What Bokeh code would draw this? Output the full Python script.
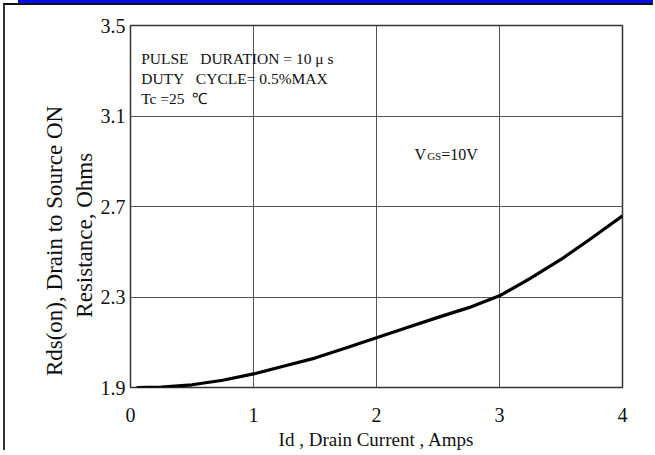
from bokeh.plotting import figure
from bokeh.models import FixedTicker, Label, Range1d
from bokeh.embed import file_html
from bokeh.resources import INLINE

# Data
drain_current = [0.05, 0.25, 0.5, 0.75, 1.0, 1.25, 1.5, 1.75, 2.0, 2.25, 2.5, 2.75, 3.0, 3.25, 3.5, 3.75, 4.0]
rds_on = [1.900, 1.902, 1.912, 1.932, 1.960, 1.995, 2.030, 2.075, 2.120, 2.165, 2.210, 2.253, 2.305, 2.382, 2.466, 2.561, 2.659]
x_ticks = [0, 1, 2, 3, 4]
y_ticks = [1.9, 2.3, 2.7, 3.1, 3.5]
NB = "\u00a0"
note_lines = ["PULSE" + NB * 3 + "DURATION = 10 μ s", "DUTY" + NB * 3 + "CYCLE= 0.5%MAX", "Tc =25" + NB * 2 + "℃"]
y_label = "Rds(on), Drain to Source ON" + NB * 12 + "\nResistance, Ohms" + NB * 10
x_label = "Id , Drain Current , Amps"

FONT = "Liberation Serif"

p = figure(width=650, height=447, output_backend="svg", toolbar_location=None,
           x_range=Range1d(0, 4), y_range=Range1d(1.9, 3.5),
           min_border_left=125, min_border_right=33, min_border_top=20, min_border_bottom=63)

# page decoration: black frame on left/top and blue strip above (as in the source document)
p.styles = {
    "border-top": "2px solid #111111",
    "border-left": "2px solid #333333",
    "margin-left": "3px",
    "margin-top": "3px",
    "box-shadow": "7.5px -10.5px 0 -7.5px #0a0af0",
}

p.line(drain_current, rds_on, line_color="black", line_width=3.2)

for ax in (p.xaxis, p.yaxis):
    ax.axis_line_color = None
    ax.major_tick_line_color = None
    ax.minor_tick_line_color = None
    ax.major_tick_out = 0
    ax.major_tick_in = 0
    ax.major_label_text_font = FONT
    ax.major_label_text_font_size = "20px"
    ax.major_label_text_color = "#111111"
    ax.axis_label_text_font = FONT
    ax.axis_label_text_font_style = "normal"
    ax.axis_label_text_color = "#111111"

p.xaxis.ticker = FixedTicker(ticks=x_ticks)
p.yaxis.ticker = FixedTicker(ticks=y_ticks)
p.yaxis.major_label_overrides = {t: f"{t:.1f}" for t in y_ticks}
p.xaxis.major_label_standoff = 20
p.yaxis.major_label_standoff = 5

p.xaxis.axis_label = x_label
p.xaxis.axis_label_text_font_size = "19px"
p.xaxis.axis_label_standoff = 4
p.yaxis.axis_label = y_label
p.yaxis.axis_label_text_font_size = "23px"
p.yaxis.axis_label_standoff = 1

p.grid.grid_line_color = "#555555"
p.grid.grid_line_width = 1
p.xgrid.ticker = FixedTicker(ticks=x_ticks)
p.ygrid.ticker = FixedTicker(ticks=y_ticks)

p.outline_line_color = "#333333"
p.outline_line_width = 1.5
p.background_fill_color = "white"
p.border_fill_color = "white"

# Notes inside plot
note_y = [3.355, 3.267, 3.179]
for txt, yy in zip(note_lines, note_y):
    p.add_layout(Label(x=0.087, y=yy, text=txt, text_font=FONT, text_font_size="15.5px",
                       text_baseline="middle", text_align="left", text_color="#111111"))

# V_GS = 10V
p.add_layout(Label(x=2.309, y=2.929, text="V", text_font=FONT, text_font_size="16px",
                   text_baseline="middle", text_color="#111111"))
p.add_layout(Label(x=2.412, y=2.921, text="GS", text_font=FONT, text_font_size="11px",
                   text_baseline="middle", text_color="#111111"))
p.add_layout(Label(x=2.526, y=2.929, text="=10V", text_font=FONT, text_font_size="16px",
                   text_baseline="middle", text_color="#111111"))

open("out.html", "w").write(file_html(p, INLINE))
